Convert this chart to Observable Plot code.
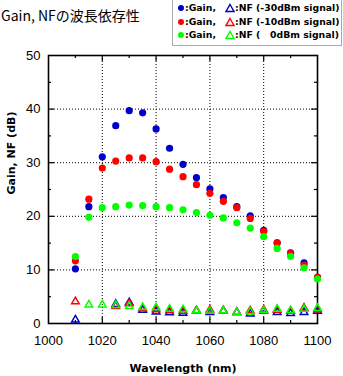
<!DOCTYPE html>
<html><head><meta charset="utf-8">
<script src="https://cdn.jsdelivr.net/npm/d3@7"></script>
<script src="https://cdn.jsdelivr.net/npm/@observablehq/plot@0.6"></script>
<style>
body{margin:0;background:#fff;}
#wrap{position:relative;width:343px;height:376px;overflow:hidden;}
#title{position:absolute;left:1px;top:5px;font:14px "Noto Sans CJK JP","Noto Sans",sans-serif;color:#000;white-space:nowrap;}
#legend{position:absolute;left:172px;top:-1px;width:168px;height:45px;border:1.5px solid #aaa;background:#fff;font:bold 9.3px "DejaVu Sans",sans-serif;}
#legend .it{position:absolute;height:12px;line-height:12px;white-space:pre;}
</style></head>
<body><div id="wrap"><div id="chart"></div><div id="title"></div><div id="legend"></div></div>
<script>
const wavelengths = [1010,1015,1020,1025,1030,1035,1040,1045,1050,1055,1060,1065,1070,1075,1080,1085,1090,1095,1100];
const gain30 = [10.2,21.8,31.1,36.9,39.7,39.3,36.3,32.7,29.7,27.2,25.1,23.5,21.8,20.1,17.4,15.0,13.2,11.3,8.6];
const gain10 = [11.7,23.2,29.0,30.3,30.9,30.9,30.2,28.8,27.4,25.9,24.3,22.8,21.6,19.6,17.2,15.1,13.1,10.9,8.6];
const gain0  = [12.5,19.8,21.6,21.8,22.1,22.0,21.8,21.6,21.2,20.7,20.2,19.7,18.8,17.8,16.2,14.0,12.5,10.4,8.3];
const nf30 = [0.7,null,null,3.6,3.9,2.5,2.2,2.05,1.95,2.4,2.1,2.4,2.1,1.8,2.3,2.1,1.9,2.1,2.3];
const nf10 = [4.1,null,null,3.2,3.7,2.8,2.6,2.4,2.3,2.4,2.55,2.4,2.1,2.4,2.55,2.5,2.3,2.9,2.6];
const nf0  = [null,3.5,3.5,3.4,3.2,3.0,2.95,2.7,2.6,2.4,2.3,2.4,2.1,2.2,2.4,2.7,2.4,2.7,2.85];
const seriesNames = ["-30dBm","-10dBm","0dBm"];
const legendLabels = [":NF (-30dBm signal)", ":NF (-10dBm signal)", ":NF (\u00a0\u20070dBm signal)"];
const colors = ["#0000cc","#ff0000","#00ff00"];
const xTicks = [1000,1020,1040,1060,1080,1100];
const yTicks = [0,10,20,30,40,50];
const xGrid = [1020,1040,1060,1080];
const yGrid = [10,20,30,40];
const xMinor = [1010,1030,1050,1070,1090];
const yMinor = [5,15,25,35,45];
const titleText = "Gain, NFの波長依存性";
const xLabel = "Wavelength (nm)";
const yLabel = "Gain, NF (dB)";

const gains = [gain30, gain10, gain0];
const nfs = [nf30, nf10, nf0];
const gainRows = [], nfRows = [];
seriesNames.forEach((s, i) => {
  wavelengths.forEach((w, j) => {
    gainRows.push({s, w, v: gains[i][j]});
    nfRows.push({s, w, v: nfs[i][j]});
  });
});

const W = 343, H = 376, mL = 48, mR = 26, mT = 55, mB = 53;
const fw = W - mL - mR, fh = H - mT - mB;
const minor = 3, major = 6;

const plot = Plot.plot({
  width: W, height: H,
  marginLeft: mL, marginRight: mR, marginTop: mT, marginBottom: mB,
  style: {fontFamily: "Liberation Sans, sans-serif", fontSize: "13px", background: "#fff", overflow: "visible"},
  x: {domain: [1000, 1100], ticks: xTicks, tickFormat: d => String(d)},
  y: {domain: [0, 50], ticks: yTicks},
  color: {domain: seriesNames, range: colors},
  marks: [
    Plot.ruleX(xGrid, {x: d => d, stroke: "#000", strokeDasharray: "1,2", strokeWidth: 1}),
    Plot.ruleY(yGrid, {y: d => d, stroke: "#000", strokeDasharray: "1,2", strokeWidth: 1}),
    Plot.ruleX(xMinor, {x: d => d, insetTop: fh - minor, stroke: "#000", strokeWidth: 1.2}),
    Plot.ruleX(xMinor, {x: d => d, insetBottom: fh - minor, stroke: "#000", strokeWidth: 1.2}),
    Plot.ruleX(xGrid, {x: d => d, insetTop: fh - major, stroke: "#000", strokeWidth: 1.2}),
    Plot.ruleX(xGrid, {x: d => d, insetBottom: fh - major, stroke: "#000", strokeWidth: 1.2}),
    Plot.ruleY(yMinor, {y: d => d, insetRight: fw - minor, stroke: "#000", strokeWidth: 1.2}),
    Plot.ruleY(yMinor, {y: d => d, insetLeft: fw - minor, stroke: "#000", strokeWidth: 1.2}),
    Plot.ruleY(yGrid, {y: d => d, insetRight: fw - major, stroke: "#000", strokeWidth: 1.2}),
    Plot.ruleY(yGrid, {y: d => d, insetLeft: fw - major, stroke: "#000", strokeWidth: 1.2}),
    Plot.frame({stroke: "#000", strokeWidth: 1.6}),
    Plot.axisX({ticks: xTicks, tickSize: 0, tickPadding: 12, label: null, tickFormat: d => String(d)}),
    Plot.axisY({ticks: yTicks, tickSize: 0, tickPadding: 8, label: null}),
    Plot.dot(gainRows, {x: "w", y: "v", fill: "s", r: 3.6, stroke: null}),
    Plot.dot(nfRows, {x: "w", y: "v", stroke: "s", symbol: "triangle", r: 2.8, strokeWidth: 1.5, fill: "none"}),
    Plot.text([xLabel], {frameAnchor: "bottom", dy: 48, text: d => d, fontWeight: "bold", fontSize: 11, fontFamily: "DejaVu Sans, sans-serif"}),
    Plot.text([yLabel], {frameAnchor: "left", dx: -37, dy: 5, rotate: -90, text: d => d, fontWeight: "bold", fontSize: 11, fontFamily: "DejaVu Sans, sans-serif"})
  ]
});
document.getElementById("chart").appendChild(plot);
document.getElementById("title").textContent = titleText;

const leg = document.getElementById("legend");
const rowTops = [2, 15.5, 28.5];
seriesNames.forEach((s, i) => {
  const c = colors[i];
  const t = rowTops[i];
  const add = (left, html) => {
    const el = document.createElement("div");
    el.className = "it";
    el.style.left = left + "px";
    el.style.top = t + "px";
    el.innerHTML = html;
    leg.appendChild(el);
  };
  add(4, `<svg width="8" height="12"><circle cx="4" cy="6" r="3" fill="${c}"/></svg>`);
  add(12, `:Gain,`);
  add(52, `<svg width="10" height="12"><path d="M5,2.5 L9,9.5 L1,9.5 Z" fill="none" stroke="${c}" stroke-width="1.4"/></svg>`);
  add(62, legendLabels[i]);
});
</script></body></html>
